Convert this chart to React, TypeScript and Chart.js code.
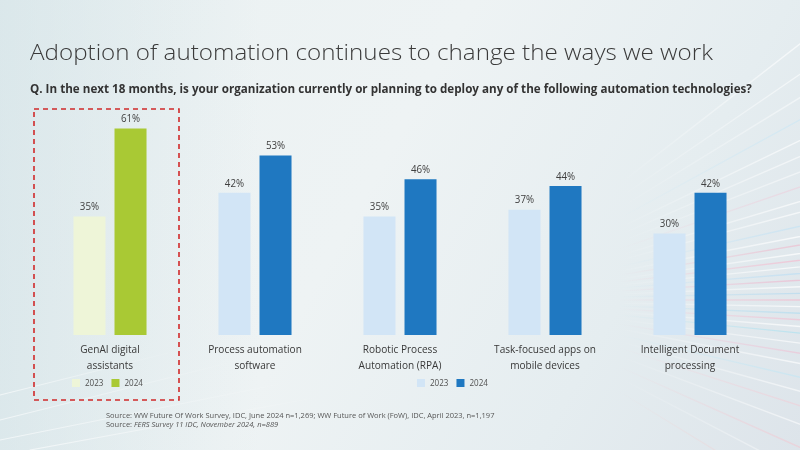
import React, { useEffect, useRef } from "react";
import { Chart, registerables } from "chart.js";

Chart.register(...registerables);

// Survey categories (multi-line axis labels)
const categories: string[][] = [
  ["GenAI digital", "assistants"],
  ["Process automation", "software"],
  ["Robotic Process", "Automation (RPA)"],
  ["Task-focused apps on", "mobile devices"],
  ["Intelligent Document", "processing"],
];

const seriesLabels = ["2023", "2024"];
const values2023 = [35, 42, 35, 37, 30];
const values2024 = [61, 53, 46, 44, 42];

// First category is highlighted in green, the rest in blue
const colors2023 = ["#eef5d8", "#d2e5f6", "#d2e5f6", "#d2e5f6", "#d2e5f6"];
const colors2024 = ["#a9c934", "#1f78c1", "#1f78c1", "#1f78c1", "#1f78c1"];

const FONT = "'Open Sans', 'Noto Sans', sans-serif";

// Draw text slightly condensed around its anchor point
function condensedText(ctx: CanvasRenderingContext2D, text: string, x: number, y: number, sx: number) {
  ctx.save();
  ctx.translate(x, y);
  ctx.scale(sx, 1);
  ctx.fillText(text, 0, 0);
  ctx.restore();
}

// Soft gradient backdrop with light streaks fanning out to the right
const backgroundPlugin = {
  id: "backdrop",
  beforeDraw(chart: any) {
    const { ctx, width, height } = chart;
    ctx.save();
    const g = ctx.createLinearGradient(0, 0, width, height);
    g.addColorStop(0, "#eaf1f2");
    g.addColorStop(0.45, "#eef3f4");
    g.addColorStop(0.75, "#e5edf0");
    g.addColorStop(1, "#dde4ea");
    ctx.fillStyle = g;
    ctx.fillRect(0, 0, width, height);

    const left = ctx.createLinearGradient(0, 0, 260, 0);
    left.addColorStop(0, "rgba(200,220,226,0.45)");
    left.addColorStop(1, "rgba(200,220,226,0)");
    ctx.fillStyle = left;
    ctx.fillRect(0, 0, 260, height);

    const vx = 470;
    const vy = 300;
    const streaks: [number, string, number][] = [
      [-0.66, "255,255,255", 0.8], [-0.6, "255,255,255", 0.7], [-0.55, "255,255,255", 0.6],
      [-0.5, "200,230,245", 0.7], [-0.45, "255,255,255", 0.8], [-0.41, "255,255,255", 0.7],
      [-0.37, "255,255,255", 0.6], [-0.33, "240,200,215", 0.6], [-0.29, "255,255,255", 0.8],
      [-0.26, "255,255,255", 0.8], [-0.22, "190,225,245", 0.7], [-0.19, "255,255,255", 0.9],
      [-0.165, "240,180,200", 0.7], [-0.14, "255,255,255", 0.9], [-0.12, "245,185,205", 0.8],
      [-0.1, "255,255,255", 0.9], [-0.08, "180,220,245", 0.7], [-0.06, "240,175,200", 0.7],
      [-0.04, "255,255,255", 0.9], [-0.02, "170,215,240", 0.7], [0.0, "245,180,200", 0.7],
      [0.02, "255,255,255", 0.9], [0.04, "175,220,240", 0.8], [0.06, "245,185,205", 0.7],
      [0.08, "255,255,255", 0.9], [0.1, "170,225,240", 0.8], [0.13, "255,255,255", 0.8],
      [0.16, "240,190,210", 0.7], [0.19, "255,255,255", 0.8], [0.23, "190,230,245", 0.7],
      [0.27, "255,255,255", 0.7], [0.31, "245,200,210", 0.6], [0.36, "255,255,255", 0.7],
      [0.42, "245,195,205", 0.6], [0.48, "255,255,255", 0.6], [0.55, "245,200,200", 0.6],
    ];
    ctx.lineCap = "round";
    for (const [ang, rgb, a] of streaks) {
      const ex = width + 40;
      const ey = vy + Math.tan(ang) * (ex - vx);
      const sx = vx + (ex - vx) * 0.4;
      const sy = vy + (ey - vy) * 0.4;
      const lg = ctx.createLinearGradient(sx, sy, ex, ey);
      lg.addColorStop(0, `rgba(${rgb},0)`);
      lg.addColorStop(0.6, `rgba(${rgb},${a * 0.6})`);
      lg.addColorStop(1, `rgba(${rgb},${a})`);
      ctx.strokeStyle = lg;
      ctx.lineWidth = 1.4;
      ctx.beginPath();
      ctx.moveTo(sx, sy);
      ctx.lineTo(ex, ey);
      ctx.stroke();
    }
    // faint streaks along the bottom-left
    const bl: [number, number, number, number][] = [
      [0, 420, 240, 360], [0, 440, 300, 380], [30, 450, 330, 395], [0, 395, 180, 350],
    ];
    for (const [x1, y1, x2, y2] of bl) {
      const lg = ctx.createLinearGradient(x1, y1, x2, y2);
      lg.addColorStop(0, "rgba(255,255,255,0.6)");
      lg.addColorStop(1, "rgba(255,255,255,0)");
      ctx.strokeStyle = lg;
      ctx.lineWidth = 1.2;
      ctx.beginPath();
      ctx.moveTo(x1, y1);
      ctx.lineTo(x2, y2);
      ctx.stroke();
    }
    ctx.restore();
  },
};

// Percent labels above each bar and the category names under them
const labelPlugin = {
  id: "barLabels",
  afterDatasetsDraw(chart: any) {
    const { ctx } = chart;
    const xScale = chart.scales.x;
    ctx.save();
    ctx.font = `10.5px ${FONT}`;
    ctx.fillStyle = "#404040";
    ctx.textAlign = "center";
    ctx.textBaseline = "bottom";
    chart.data.datasets.forEach((ds: any, di: number) => {
      const meta = chart.getDatasetMeta(di);
      meta.data.forEach((bar: any, i: number) => {
        condensedText(ctx, `${ds.data[i]}%`, bar.x, bar.y - 4, 0.93);
      });
    });

    ctx.font = `10.5px ${FONT}`;
    ctx.fillStyle = "#383838";
    ctx.textBaseline = "middle";
    (chart.data.labels as string[][]).forEach((lines, i) => {
      const cx = xScale.getPixelForValue(i);
      lines.forEach((line, li) => {
        condensedText(ctx, line, cx, xScale.top + 15.5 + li * 16, 0.96);
      });
    });
    ctx.restore();
  },
};

// Dashed frame around the highlighted category plus the two legends
const annotationPlugin = {
  id: "annotations",
  afterDraw(chart: any) {
    const { ctx } = chart;
    const x = chart.scales.x;
    const c0 = x.getPixelForValue(0);
    ctx.save();
    ctx.strokeStyle = "#d02a2a";
    ctx.lineWidth = 1.6;
    ctx.setLineDash([5, 4]);
    ctx.strokeRect(c0 - 76, 109, 145, 291);
    ctx.setLineDash([]);

    const drawLegend = (left: number, y: number, cols: string[]) => {
      ctx.font = `9.5px ${FONT}`;
      ctx.textBaseline = "middle";
      ctx.textAlign = "left";
      const sw = 8;
      let px = left;
      seriesLabels.forEach((lab, i) => {
        ctx.fillStyle = cols[i];
        ctx.fillRect(px, y - sw / 2, sw, sw);
        ctx.fillStyle = "#505050";
        const sx = 0.85;
        condensedText(ctx, lab, px + sw + 5, y + 0.5, sx);
        px += sw + 5 + ctx.measureText(lab).width * sx + 8;
      });
    };
    drawLegend(c0 - 38, 383, [colors2023[0], colors2024[0]]);
    drawLegend(417, 383, [colors2023[1], colors2024[1]]);
    ctx.restore();
  },
};

export default function App() {
  const canvasRef = useRef<HTMLCanvasElement | null>(null);

  useEffect(() => {
    if (!canvasRef.current) return;
    const chart = new Chart(canvasRef.current, {
      type: "bar",
      data: {
        labels: categories,
        datasets: [
          {
            label: seriesLabels[0],
            data: values2023,
            backgroundColor: colors2023,
            categoryPercentage: 0.566,
            barPercentage: 0.78,
          },
          {
            label: seriesLabels[1],
            data: values2024,
            backgroundColor: colors2024,
            categoryPercentage: 0.566,
            barPercentage: 0.78,
          },
        ],
      },
      options: {
        responsive: false,
        animation: false,
        layout: { padding: { left: 37.5, right: 37.5, top: 98, bottom: 0 } },
        plugins: {
          legend: { display: false },
          tooltip: { enabled: false },
          title: { display: false },
        },
        scales: {
          x: {
            grid: { display: false, drawTicks: false },
            border: { display: false },
            ticks: { display: false },
            afterFit: (s: any) => {
              s.height = 115;
            },
          },
          y: {
            display: false,
            min: 0,
            max: 70,
          },
        },
      },
      plugins: [backgroundPlugin, labelPlugin, annotationPlugin],
    });
    return () => chart.destroy();
  }, []);

  return (
    <div
      style={{
        position: "absolute",
        left: 0,
        top: 0,
        width: 800,
        height: 450,
        overflow: "hidden",
        fontFamily: FONT,
      }}
    >
      <canvas ref={canvasRef} width={800} height={450} style={{ display: "block" }} />
      <div
        style={{
          position: "absolute",
          left: 30,
          top: 35,
          fontSize: 22,
          fontWeight: 300,
          color: "#3a3a3a",
          whiteSpace: "nowrap",
          lineHeight: "32px",
          transform: "scaleX(1.1)",
          transformOrigin: "left center",
        }}
      >
        Adoption of automation continues to change the ways we work
      </div>
      <div
        style={{
          position: "absolute",
          left: 30,
          top: 81,
          fontSize: 12,
          fontWeight: 700,
          color: "#333",
          whiteSpace: "nowrap",
          lineHeight: "16px",
          transform: "scaleX(0.97)",
          transformOrigin: "left center",
        }}
      >
        Q. In the next 18 months, is your organization currently or planning to deploy any of the following automation technologies?
      </div>
      <div
        style={{
          position: "absolute",
          left: 106,
          top: 411,
          fontSize: 7.5,
          color: "#555",
          whiteSpace: "nowrap",
          lineHeight: "9px",
        }}
      >
        <div>
          Source: WW Future Of Work Survey, IDC, June 2024 n=1,269; WW Future of Work (FoW), IDC, April 2023, n=1,197
        </div>
        <div>
          Source: <i>FERS Survey 11 IDC, November 2024, n=889</i>
        </div>
      </div>
    </div>
  );
}
